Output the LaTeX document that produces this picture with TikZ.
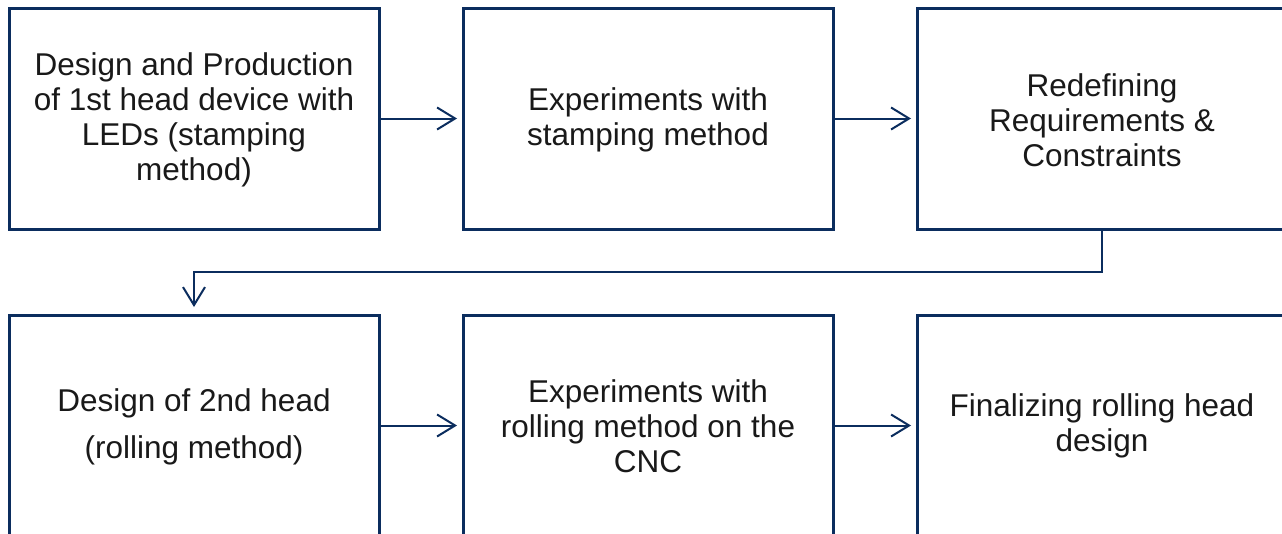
\documentclass[tikz,border=0pt]{standalone}
\usepackage{fontspec}
\setmainfont{Liberation Sans}
\usetikzlibrary{arrows.meta}
\definecolor{navy}{HTML}{0B2D5E}
\tikzset{
  stepbox/.style={draw=navy, line width=3pt, minimum width=370pt, minimum height=221pt, inner sep=0pt, outer sep=0pt},
  lbl/.style={align=center, font=\fontsize{31.5}{35}\selectfont, text=black!90},
  conn/.style={draw=navy, line width=2pt, -{Straight Barb[length=18pt,width=22pt,line width=2pt]}, shorten >=6pt}
}
\begin{document}
\begin{tikzpicture}[x=1pt,y=-1pt]
\useasboundingbox (0,0) rectangle (1282,533);
\fill[white] (0,0) rectangle (1282,533);
\clip (0,0) rectangle (1282,533);
\node[stepbox] (b1) at (194,118.5) {};
\node[stepbox] (b2) at (648,118.5) {};
\node[stepbox] (b3) at (1102,118.5) {};
\node[stepbox] (b4) at (194,425.5) {};
\node[stepbox] (b5) at (648,425.5) {};
\node[stepbox] (b6) at (1102,425.5) {};
\node[lbl] (t1) at (194,120) {Design and Production\\of 1st head device with\\LEDs (stamping\\method)};
\node[lbl] (t2) at (648,120) {Experiments with\\stamping method};
\node[lbl] (t3) at (1102,120) {Redefining\\Requirements \&\\Constraints};
\node[lbl] (t4) at (194,427) {Design of 2nd head\\[12pt](rolling method)};
\node[lbl] (t5) at (648,426) {Experiments with\\rolling method on the\\CNC};
\node[lbl] (t6) at (1102,426) {Finalizing rolling head\\design};
\coordinate (k1) at (1102,272);
\coordinate (k2) at (194,272);
\draw[conn] (b1.east) -- (b2.west);
\draw[conn] (b2.east) -- (b3.west);
\draw[conn, shorten >=8pt] (b3.south) -- (k1) -- (k2) -- (b4.north);
\draw[conn] (b4.east) -- (b5.west);
\draw[conn] (b5.east) -- (b6.west);
\end{tikzpicture}
\end{document}
